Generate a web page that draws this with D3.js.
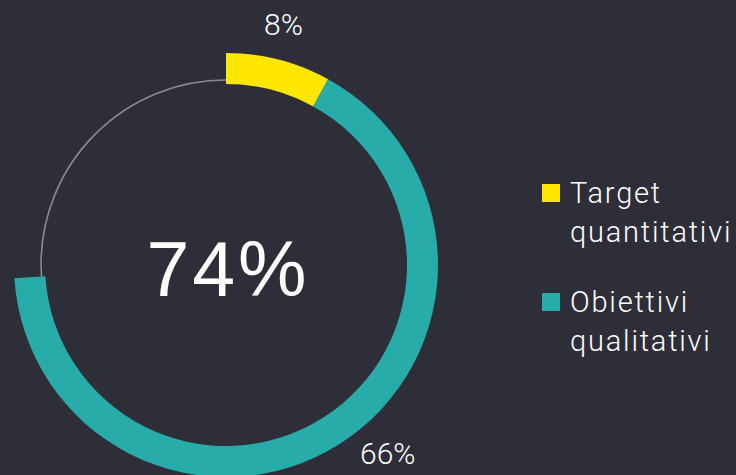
<!DOCTYPE html>
<html>
<head>
<meta charset="utf-8">
<script src="https://cdn.jsdelivr.net/npm/d3@7"></script>
<style>
  html, body { margin: 0; padding: 0; background: #2e2e38; }
  svg { display: block; }
</style>
</head>
<body>
<div id="chart"></div>
<script>
// data
var categories = ["Target quantitativi", "Obiettivi qualitativi"];
var values = [8, 66];
var legendLines = [["Target", "quantitativi"], ["Obiettivi", "qualitativi"]];
var colors = ["#ffe600", "#27acaa"];

var svgWidth = 736;
var svgHeight = 475;

var svg = d3.select("#chart")
    .append("svg")
    .attr("width", svgWidth)
    .attr("height", svgHeight);

svg.append("rect")
    .attr("width", svgWidth)
    .attr("height", svgHeight)
    .attr("fill", "#2e2e38");

var cx = 226, cy = 265;
var outerR = 212, innerR = 181;

var g = svg.append("g")
    .attr("transform", `translate(${cx}, ${cy})`);

// thin background ring
g.append("circle")
    .attr("r", 185)
    .attr("fill", "none")
    .attr("stroke", "#8a8a8f")
    .attr("stroke-width", 1.6);

var total = d3.sum(values);
var pie = d3.pie()
    .sort(null)
    .startAngle(0)
    .endAngle(2 * Math.PI * total / 100);

var arcs = pie(values);

var arc = d3.arc()
    .innerRadius(innerR)
    .outerRadius(outerR);

g.selectAll("path.slice")
    .data(arcs)
    .enter()
    .append("path")
    .attr("class", "slice")
    .attr("d", arc)
    .attr("fill", (d, i) => colors[i]);

// value labels outside the ring
var labelR = 248;
function labelAngle(d) {
    return d.startAngle + 0.465 * (d.endAngle - d.startAngle);
}
g.selectAll("text.val")
    .data(arcs)
    .enter()
    .append("text")
    .attr("class", "val")
    .attr("x", d => labelR * Math.sin(labelAngle(d)))
    .attr("y", d => -labelR * Math.cos(labelAngle(d)))
    .attr("dy", "0.36em")
    .attr("text-anchor", "middle")
    .attr("fill", "#ffffff")
    .style("font-family", "Roboto, sans-serif")
    .style("font-weight", 300)
    .style("font-size", "30px")
    .text(d => d.value + "%");

// total in centre
g.append("text")
    .attr("x", 2)
    .attr("y", 31)
    .attr("text-anchor", "middle")
    .attr("fill", "#ffffff")
    .style("font-family", "'Liberation Sans', Arial, sans-serif")
    .style("font-size", "77px")
    .style("letter-spacing", "3px")
    .text(total + "%");

// legend
var legend = svg.append("g")
    .attr("transform", "translate(542, 184)");

var items = legend.selectAll("g.item")
    .data(categories)
    .enter()
    .append("g")
    .attr("class", "item")
    .attr("transform", (d, i) => `translate(0, ${i * 109})`);

items.append("rect")
    .attr("width", 18)
    .attr("height", 18)
    .attr("fill", (d, i) => colors[i]);

items.each(function(d, i) {
    var t = d3.select(this).append("text")
        .attr("fill", "#ffffff")
        .style("font-family", "Roboto, sans-serif")
        .style("font-weight", 300)
        .style("font-size", "29px")
        .style("letter-spacing", "1.8px");
    legendLines[i].forEach(function(line, j) {
        t.append("tspan")
            .attr("x", 28)
            .attr("y", 19 + j * 39)
            .text(line);
    });
});
</script>
</body>
</html>
